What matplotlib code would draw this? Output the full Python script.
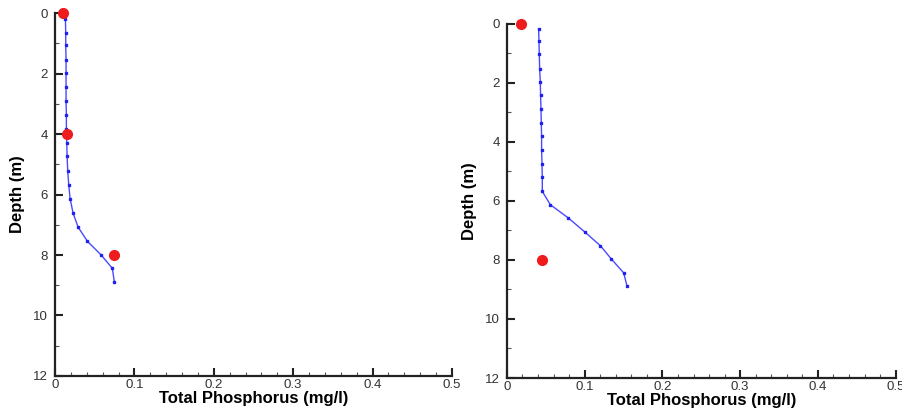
import matplotlib.pyplot as plt
from matplotlib.ticker import MultipleLocator

plt.rcParams['font.family'] = ['Liberation Sans', 'DejaVu Sans']

# Left profile: model (blue) and observations (red)
depth_left = [0.2, 0.66, 1.07, 1.54, 1.99, 2.45, 2.92, 3.38, 3.83, 4.30,
              4.74, 5.21, 5.68, 6.14, 6.62, 7.08, 7.55, 7.99, 8.44, 8.88]
tp_left = [0.0131, 0.0135, 0.0135, 0.0139, 0.0139, 0.0139, 0.0139, 0.0143, 0.0143, 0.0148,
           0.0152, 0.0160, 0.0173, 0.0190, 0.0228, 0.0291, 0.0409, 0.0578, 0.0722, 0.0747]
obs_depth_left = [0.0, 4.0, 8.0]
obs_tp_left = [0.0105, 0.0152, 0.0738]

# Right profile
depth_right = [0.17, 0.59, 1.03, 1.52, 1.96, 2.43, 2.88, 3.36, 3.82, 4.29,
               4.75, 5.20, 5.68, 6.13, 6.58, 7.06, 7.52, 7.97, 8.44, 8.89]
tp_right = [0.0408, 0.0412, 0.0416, 0.0421, 0.0429, 0.0433, 0.0438, 0.0442, 0.0446, 0.0446,
            0.0451, 0.0455, 0.0455, 0.0558, 0.0790, 0.1004, 0.1202, 0.1343, 0.1502, 0.1545]
obs_depth_right = [0.0, 8.0]
obs_tp_right = [0.0185, 0.0455]

fig = plt.figure(figsize=(9.02, 4.12), dpi=100)
ax1 = fig.add_axes([0.061, 0.0874, 0.440, 0.881])
ax2 = fig.add_axes([0.562, 0.0825, 0.431, 0.860])


def style(ax):
    ax.set_xlim(0, 0.5)
    ax.set_ylim(12, 0)
    ax.xaxis.set_minor_locator(MultipleLocator(0.02))
    ax.yaxis.set_major_locator(MultipleLocator(2))
    ax.yaxis.set_minor_locator(MultipleLocator(1))
    ax.set_xticks([0, 0.1, 0.2, 0.3, 0.4, 0.5])
    ax.set_xticklabels(['0', '0.1', '0.2', '0.3', '0.4', '0.5'])
    ax.spines['top'].set_visible(False)
    ax.spines['right'].set_visible(False)
    for s in ['left', 'bottom']:
        ax.spines[s].set_linewidth(1.6)
        ax.spines[s].set_color('#222222')
    ax.tick_params(which='major', direction='in', length=6, width=1.5,
                   labelsize=9.5, colors='#222222', labelcolor='#333333')
    ax.tick_params(which='minor', direction='in', length=3, width=0.8, colors='#555555')
    ax.tick_params(axis='x', pad=2)
    ax.tick_params(axis='y', pad=5)
    ax.set_xlabel('Total Phosphorus (mg/l)', fontsize=12, fontweight='bold', labelpad=0)
    ax.set_ylabel('Depth (m)', fontsize=12, fontweight='bold', labelpad=6)


for ax, d, tp, od, otp in [(ax1, depth_left, tp_left, obs_depth_left, obs_tp_left),
                           (ax2, depth_right, tp_right, obs_depth_right, obs_tp_right)]:
    style(ax)
    ax.plot(tp, d, color='#4a4aff', lw=1, marker='s', ms=2, mfc='#2020ee', mec='#2020ee', zorder=3)
    ax.plot(otp, od, 'o', color='#ee1c1c', ms=7, zorder=4, clip_on=False)

fig.savefig('out.png', dpi=100)
